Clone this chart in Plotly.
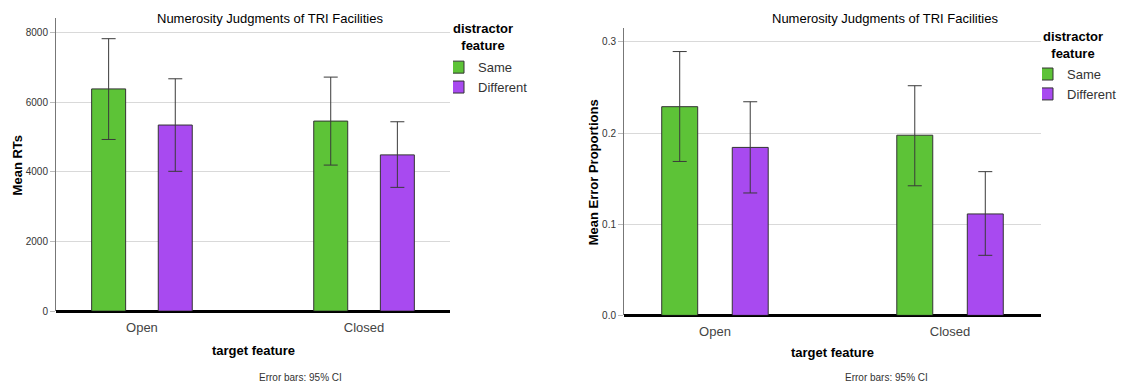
import plotly.graph_objects as go

categories = ["Open", "Closed"]
series_names = ["Same", "Different"]

# Left chart: Mean RTs
rt_same = [6380, 5456]
rt_same_hi = [7822, 6719]
rt_same_lo = [4928, 4193]
rt_diff = [5343, 4486]
rt_diff_hi = [6671, 5437]
rt_diff_lo = [4014, 3553]

# Right chart: Mean error proportions
err_same = [0.229, 0.1977]
err_same_hi = [0.2895, 0.252]
err_same_lo = [0.1689, 0.1422]
err_diff = [0.1843, 0.1113]
err_diff_hi = [0.2344, 0.1577]
err_diff_lo = [0.1343, 0.0659]

rt_ticks = [0, 2000, 4000, 6000, 8000]
err_ticks = [0.0, 0.1, 0.2, 0.3]
err_tick_text = ["0.0", "0.1", "0.2", "0.3"]

GREEN = "#5DC337"
PURPLE = "#A84AF0"
FONT = "Liberation Sans, Arial, sans-serif"

W, H = 1141, 389

fig = go.Figure()


def add_bar(name, x, y, hi, lo, color, xa, ya, legend, show):
    fig.add_trace(go.Bar(
        name=name, x=x, y=y, xaxis=xa, yaxis=ya, legend=legend,
        showlegend=show, offsetgroup=name,
        marker=dict(color=color, line=dict(color="#333333", width=1)),
        error_y=dict(type="data", symmetric=False,
                     array=[h - v for h, v in zip(hi, y)],
                     arrayminus=[v - l for v, l in zip(y, lo)],
                     color="#3A3A3A", thickness=1, width=7),
    ))


add_bar("Same", categories, rt_same, rt_same_hi, rt_same_lo, GREEN, "x", "y", "legend", True)
add_bar("Different", categories, rt_diff, rt_diff_hi, rt_diff_lo, PURPLE, "x", "y", "legend", True)
add_bar("Same", categories, err_same, err_same_hi, err_same_lo, GREEN, "x2", "y2", "legend2", True)
add_bar("Different", categories, err_diff, err_diff_hi, err_diff_lo, PURPLE, "x2", "y2", "legend2", True)

# plot area geometry (pixels)
L1, R1, T1, B1 = 56, 450, 18, 316
L2, R2, T2, B2 = 624, 1041, 28.3, 320.3

xcommon = dict(type="category", range=[-0.387, 1.387], showgrid=False,
               showline=False, zeroline=False, ticks="", ticklabelstandoff=7,
               tickfont=dict(family=FONT, size=13, color="#444444"))
ycommon = dict(showgrid=True, gridcolor="#D9D9D9", gridwidth=1,
               showline=True, linecolor="#777777", linewidth=1,
               zeroline=True, zerolinecolor="#000000", zerolinewidth=2.5,
               ticks="outside", ticklen=5, tickcolor="#BBBBBB",
               tickfont=dict(family=FONT, size=10, color="#333333"))

legcommon = dict(xanchor="left", yanchor="top",
                 font=dict(family=FONT, size=13, color="#333333"),
                 bgcolor="rgba(0,0,0,0)", tracegroupgap=0, itemwidth=30,
                 indentation=-15)

fig.update_layout(
    width=W, height=H,
    margin=dict(l=0, r=0, t=0, b=0),
    paper_bgcolor="white", plot_bgcolor="white",
    barmode="group", bargap=0.4, bargroupgap=0.49,
    font=dict(family=FONT, color="#000000"),
    xaxis=dict(domain=[L1 / W, R1 / W], anchor="y", **xcommon),
    yaxis=dict(domain=[1 - B1 / H, 1 - T1 / H], anchor="x",
               range=[0, 8424], tickvals=rt_ticks, **ycommon),
    xaxis2=dict(domain=[L2 / W, R2 / W], anchor="y2", **xcommon),
    yaxis2=dict(domain=[1 - B2 / H, 1 - T2 / H], anchor="x2",
                range=[0, 0.3155], tickvals=err_ticks, ticktext=err_tick_text, **ycommon),
    legend=dict(x=453 / W, y=1 - 53 / H, **legcommon),
    legend2=dict(x=1042 / W, y=1 - 60 / H, **legcommon),
)

ann = []


def text(x, y, s, size, bold=False, angle=0, color="#000000"):
    ann.append(dict(x=x / W, y=1 - y / H, xref="paper", yref="paper",
                    text=(f"<b>{s}</b>" if bold else s), showarrow=False,
                    textangle=angle, xanchor="center", yanchor="middle",
                    font=dict(family=FONT, size=size, color=color)))


text(270, 19, "Numerosity Judgments of TRI Facilities", 13)
text(885, 19, "Numerosity Judgments of TRI Facilities", 13)
text(17, 168, "Mean RTs", 13, bold=True, angle=-90)
text(593, 175, "Mean Error Proportions", 13, bold=True, angle=-90)
text(253, 356, "target feature", 13, bold=True)
text(832, 358, "target feature", 13, bold=True)
text(300, 383, "Error bars: 95% CI", 10, color="#333333")
text(886, 383, "Error bars: 95% CI", 10, color="#333333")
text(483, 37.5, "distractor<br>feature", 13, bold=True)
text(1073, 46, "distractor<br>feature", 13, bold=True)

fig.update_layout(annotations=ann)

fig.write_html("out.html")
